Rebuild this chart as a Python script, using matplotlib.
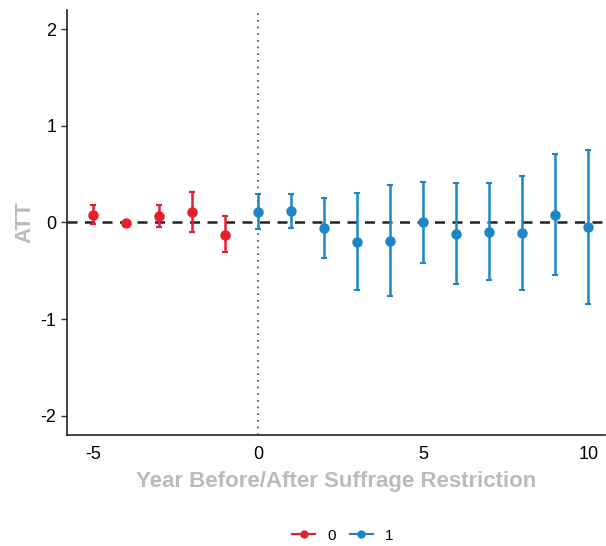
import numpy as np
import matplotlib
matplotlib.use("Agg")
import matplotlib.pyplot as plt
from matplotlib.lines import Line2D

plt.rcParams['font.family'] = ['Liberation Sans', 'DejaVu Sans']
plt.rcParams['axes.unicode_minus'] = False

# event time and estimates
years_pre = [-5, -4, -3, -2, -1]
att_pre = [0.08, -0.01, 0.065, 0.11, -0.125]
lo_pre = [-0.02, -0.03, -0.045, -0.10, -0.31]
hi_pre = [0.185, 0.01, 0.185, 0.32, 0.065]

years_post = [0, 1, 2, 3, 4, 5, 6, 7, 8, 9, 10]
att_post = [0.105, 0.115, -0.06, -0.20, -0.19, 0.0, -0.12, -0.10, -0.11, 0.08, -0.045]
lo_post = [-0.065, -0.055, -0.37, -0.70, -0.76, -0.42, -0.64, -0.60, -0.70, -0.54, -0.84]
hi_post = [0.29, 0.29, 0.255, 0.31, 0.385, 0.42, 0.405, 0.405, 0.48, 0.71, 0.75]

red = '#E5202E'
blue = '#1B87C8'

fig = plt.figure(figsize=(6.06, 5.46), dpi=100)
ax = fig.add_axes([0.1106, 0.2033, 0.8874, 0.7784])

ax.axhline(0, color='#222222', linestyle=(0, (4, 3)), linewidth=1.8, zorder=1)
ax.axvline(0, color='#444444', linestyle=(0, (1, 3)), linewidth=1.2, zorder=1)

def draw(x, y, lo, hi, c):
    y = np.array(y)
    err = [y - np.array(lo), np.array(hi) - y]
    ax.errorbar(x, y, yerr=err, fmt='o', color=c, ecolor=c, markersize=6.5,
                elinewidth=1.8, capsize=2, capthick=1.5, zorder=3)

draw(years_pre, att_pre, lo_pre, hi_pre, red)
draw(years_post, att_post, lo_post, hi_post, blue)

ax.set_xlim(-5.78, 10.5)
ax.set_ylim(-2.2, 2.2)
ax.set_xticks([-5, 0, 5, 10])
ax.set_yticks([-2, -1, 0, 1, 2])
ax.tick_params(labelsize=13, length=4, width=1, color='#333333', labelcolor='black')
ax.tick_params(axis='x', length=0, pad=8)
for s in ['top', 'right']:
    ax.spines[s].set_visible(False)
for s in ['left', 'bottom']:
    ax.spines[s].set_linewidth(1.2)
    ax.spines[s].set_color('#222222')

ax.set_xlabel('Year Before/After Suffrage Restriction', fontsize=16, fontweight='bold',
              color='#BBBBBB', labelpad=6)
ax.set_ylabel('ATT', fontsize=16, fontweight='bold', color='#BBBBBB', labelpad=4)

handles = [Line2D([0], [0], color=red, marker='o', markersize=5, linewidth=1.5),
           Line2D([0], [0], color=blue, marker='o', markersize=5, linewidth=1.5)]
fig.legend(handles, ['0', '1'], loc='center', bbox_to_anchor=(0.566, 0.019), ncol=2,
           frameon=False, fontsize=11, handlelength=1.5, columnspacing=0.9, handletextpad=0.8)

fig.savefig('out.png', dpi=100)
